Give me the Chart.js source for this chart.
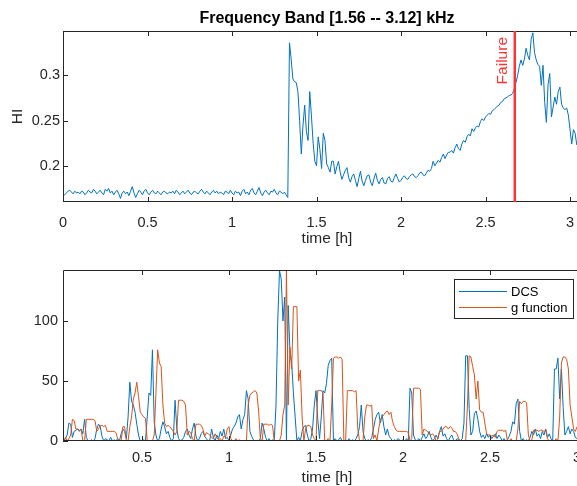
<!DOCTYPE html>
<html>
<head>
<meta charset="utf-8">
<script src="https://cdn.jsdelivr.net/npm/chart.js@4.4.1/dist/chart.umd.min.js"></script>
<style>
  html, body { margin: 0; padding: 0; background: #fff; width: 577px; height: 486px; overflow: hidden; position: relative; }
  canvas { position: absolute; left: 0; }
  #chartHI { top: 0; }
  #chartDCS { top: 250px; }
</style>
</head>
<body>
<canvas id="chartHI" width="591" height="250"></canvas>
<canvas id="chartDCS" width="591" height="250"></canvas>
<script>
// ---- top panel: health indicator, sampled every 0.01 h from 0 h ----
const hiStart = 0;
const hiStep = 0.01;
const hiValues = [
  0.167,0.168,0.170,0.172,0.173,0.171,0.169,0.172,0.170,0.171,
  0.169,0.172,0.171,0.168,0.170,0.173,0.171,0.170,0.174,0.172,
  0.169,0.171,0.173,0.170,0.168,0.174,0.172,0.175,0.170,0.172,
  0.168,0.171,0.173,0.169,0.164,0.170,0.172,0.169,0.171,0.167,
  0.172,0.177,0.170,0.165,0.169,0.173,0.171,0.168,0.172,0.174,
  0.170,0.168,0.171,0.173,0.170,0.169,0.172,0.170,0.168,0.171,
  0.172,0.170,0.169,0.171,0.170,0.172,0.169,0.173,0.171,0.168,
  0.170,0.172,0.169,0.171,0.173,0.170,0.168,0.171,0.172,0.170,
  0.169,0.172,0.174,0.171,0.169,0.172,0.170,0.168,0.171,0.173,
  0.170,0.172,0.169,0.171,0.170,0.168,0.172,0.171,0.169,0.173,
  0.170,0.168,0.172,0.170,0.171,0.167,0.172,0.174,0.169,0.171,
  0.168,0.173,0.175,0.170,0.168,0.172,0.176,0.170,0.167,0.171,
  0.173,0.170,0.168,0.172,0.171,0.174,0.170,0.168,0.172,0.171,
  0.169,0.171,0.168,0.165,0.336,0.318,0.296,0.293,0.292,0.282,
  0.250,0.213,0.245,0.267,0.238,0.228,0.282,0.255,0.225,0.205,
  0.200,0.232,0.218,0.197,0.236,0.228,0.202,0.198,0.193,0.205,
  0.205,0.191,0.199,0.205,0.193,0.185,0.190,0.195,0.198,0.187,
  0.182,0.188,0.191,0.184,0.177,0.186,0.194,0.183,0.178,0.184,
  0.189,0.190,0.182,0.178,0.186,0.192,0.184,0.180,0.185,0.187,
  0.181,0.180,0.186,0.188,0.183,0.182,0.187,0.191,0.186,0.182,
  0.184,0.187,0.189,0.186,0.185,0.188,0.190,0.191,0.188,0.187,
  0.189,0.192,0.193,0.190,0.189,0.192,0.195,0.194,0.197,0.205,
  0.200,0.203,0.206,0.204,0.209,0.213,0.208,0.212,0.215,0.215,
  0.217,0.214,0.220,0.224,0.219,0.217,0.224,0.228,0.226,0.232,
  0.235,0.233,0.241,0.238,0.242,0.244,0.243,0.249,0.252,0.250,
  0.254,0.256,0.258,0.257,0.261,0.262,0.264,0.266,0.267,0.270,
  0.271,0.274,0.275,0.276,0.278,0.278,0.280,0.285,0.292,0.300,
  0.310,0.317,0.311,0.318,0.330,0.322,0.317,0.340,0.347,0.325,
  0.317,0.312,0.310,0.289,0.311,0.270,0.248,0.290,0.302,0.254,
  0.265,0.276,0.268,0.282,0.287,0.268,0.264,0.262,0.264,0.256,
  0.240,0.224,0.240,0.236,0.223
];
const failureTime = 2.673;
const hiTicksX = [0, 0.5, 1, 1.5, 2, 2.5, 3];
const hiTicksY = [0.2, 0.25, 0.3];

// ---- bottom panel: DCS and g function, sampled every 0.01 h from 0.05 h ----
const dcsStart = 0.05;
const dcsStep = 0.01;
const dcsValues = [
  0,2,5,15,14,
  3,8,9,10,8,10,6,18,3,0,
  0,1,0,2,10,14,12,4,0,2,
  1,0,3,0,1,0,2,0,6,10,
  8,2,20,49,33,30,24,14,5,0,
  0,1,0,20,40,38,76,16,5,0,
  2,10,16,12,6,8,3,0,2,34,
  10,2,0,1,3,8,10,5,2,10,
  15,4,0,2,6,8,4,2,0,1,
  10,3,0,5,2,8,4,10,2,3,
  0,5,10,12,15,20,22,10,18,22,
  42,35,8,4,1,0,0,0,2,15,
  10,3,0,2,0,1,0,30,100,142,
  135,100,120,0,113,75,65,40,20,0,
  3,0,8,12,13,5,0,2,10,30,
  42,18,2,20,42,40,48,63,67,69,
  0,2,0,1,3,0,0,1,0,2,
  0,1,0,2,5,12,30,8,2,0,
  1,0,3,10,18,22,24,15,22,12,
  5,10,4,2,0,1,0,2,1,0,
  1,0,2,0,44,40,5,1,0,2,
  0,3,6,2,4,8,3,0,2,5,
  2,8,12,4,6,2,0,3,5,1,
  0,2,1,0,2,15,71,71,27,5,
  8,23,25,18,8,3,5,2,6,3,
  5,2,4,6,2,5,3,0,2,0,
  1,4,8,16,14,31,35,8,0,2,
  0,1,0,3,8,5,10,4,6,2,
  8,5,10,3,6,2,0,60,60,69,
  35,60,28,5,8,12,6,10,8,3,
  2
];
const gValues = [
  0,3,0,2,5,
  18,17,10,10,9,10,0,0,18,18,
  18,18,18,17,8,10,13,13,12,13,
  8,8,8,8,8,7,2,0,0,12,
  12,0,0,12,20,35,40,49,37,24,
  22,20,19,0,0,0,0,5,40,76,
  65,62,30,15,12,13,12,10,8,5,
  8,34,34,34,33,30,5,8,7,2,
  0,14,14,14,13,10,4,7,6,5,
  3,2,6,3,1,2,0,4,3,10,
  12,2,0,0,2,0,1,0,0,0,
  0,30,38,40,41,42,40,25,2,0,
  14,14,14,13,14,13,0,0,0,0,
  5,22,30,142,30,78,60,112,112,112,
  50,59,20,0,10,13,13,12,5,2,
  0,42,42,42,40,0,0,2,0,30,
  69,70,70,69,70,68,0,0,42,42,
  42,42,41,42,10,0,0,0,20,30,
  30,29,30,2,5,0,10,18,20,22,
  24,25,22,24,16,12,9,8,8,8,
  8,8,8,7,0,2,44,44,44,44,
  43,5,10,9,8,6,5,6,4,0,
  2,8,8,10,12,12,10,12,11,8,
  8,6,2,0,0,0,0,30,71,70,
  62,55,35,50,26,24,24,15,6,5,
  5,4,5,3,8,9,9,9,8,9,
  0,0,2,0,0,0,10,33,31,33,
  33,32,5,0,1,9,9,9,8,9,
  9,8,9,2,0,0,0,0,2,0,
  20,65,70,70,68,60,30,20,10,8,
  12
];
const seriesNames = ['DCS', 'g function'];
const dcsTicksX = [0.5, 1, 1.5, 2, 2.5, 3];
const dcsTicksY = [0, 50, 100];

const BLUE = '#0072bd';
const ORANGE = '#d95319';
const RED = '#ff3333';
const AXIS = '#262626';
const FONT = '"Liberation Sans", Arial, Helvetica, sans-serif';

Chart.defaults.font.family = FONT;
Chart.defaults.color = AXIS;

function toPoints(start, step, values) {
  return values.map((v, i) => ({ x: start + i * step, y: v }));
}
const fmt = v => String(Math.round(v * 1000) / 1000);

function fixedTicks(list) {
  return scale => { scale.ticks = list.map(v => ({ value: v })); };
}

// keep the plot box where matlab put it: no extra room for edge labels
function fixSize(w, h) {
  return s => {
    if (w !== null) s.width = w;
    if (h !== null) s.height = h;
    s.paddingLeft = 0; s.paddingRight = 0;
    s.paddingTop = 0; s.paddingBottom = 0;
  };
}

// matlab style box with inward ticks
const matlabAxes = {
  id: 'matlabAxes',
  afterDatasetsDraw(chart) {
    const { ctx, chartArea: a, scales: { x, y } } = chart;
    const len = 5;
    ctx.save();
    ctx.strokeStyle = AXIS;
    ctx.lineWidth = 1;
    ctx.beginPath();
    ctx.moveTo(a.right - 0.5, a.top + 0.5);
    ctx.lineTo(a.left + 0.5, a.top + 0.5);
    ctx.lineTo(a.left + 0.5, a.bottom - 0.5);
    ctx.lineTo(a.right - 0.5, a.bottom - 0.5);
    ctx.lineTo(a.right - 0.5, a.top + 0.5);
    x.ticks.forEach(t => {
      const px = Math.round(x.getPixelForValue(t.value)) + 0.5;
      ctx.moveTo(px, a.bottom); ctx.lineTo(px, a.bottom - len);
      ctx.moveTo(px, a.top); ctx.lineTo(px, a.top + len);
    });
    y.ticks.forEach(t => {
      const py = Math.round(y.getPixelForValue(t.value)) + 0.5;
      ctx.moveTo(a.left, py); ctx.lineTo(a.left + len, py);
      ctx.moveTo(a.right, py); ctx.lineTo(a.right - len, py);
    });
    ctx.stroke();
    ctx.restore();
  }
};

const failureMarker = {
  id: 'failureMarker',
  afterDatasetsDraw(chart) {
    const { ctx, chartArea: a, scales: { x } } = chart;
    const px = x.getPixelForValue(failureTime);
    ctx.save();
    ctx.strokeStyle = RED;
    ctx.lineWidth = 2.5;
    ctx.beginPath();
    ctx.moveTo(px, a.top);
    ctx.lineTo(px, a.bottom);
    ctx.stroke();
    ctx.translate(px - 8, a.top + 6);
    ctx.rotate(-Math.PI / 2);
    ctx.fillStyle = RED;
    ctx.font = '15.5px ' + FONT;
    ctx.textAlign = 'right';
    ctx.textBaseline = 'alphabetic';
    ctx.fillText('Failure', 0, 0);
    ctx.restore();
  }
};

const legendBox = {
  id: 'legendBox',
  afterDraw(chart) {
    const { ctx, chartArea: a } = chart;
    const bx = a.right - 137, by = a.top + 9, bw = 119, bh = 39;
    ctx.save();
    ctx.fillStyle = '#fff';
    ctx.fillRect(bx, by, bw, bh);
    ctx.strokeStyle = AXIS;
    ctx.lineWidth = 1;
    ctx.strokeRect(bx + 0.5, by + 0.5, bw, bh);
    ctx.font = '13px ' + FONT;
    ctx.textBaseline = 'middle';
    ctx.fillStyle = '#000';
    const colors = [BLUE, ORANGE];
    seriesNames.forEach((name, i) => {
      const ly = by + 12 + i * 16;
      ctx.strokeStyle = colors[i];
      ctx.beginPath();
      ctx.moveTo(bx + 5, ly + 0.5);
      ctx.lineTo(bx + 53, ly + 0.5);
      ctx.stroke();
      ctx.fillText(name, bx + 57, ly + 1);
    });
    ctx.restore();
  }
};

new Chart(document.getElementById('chartHI'), {
  type: 'line',
  data: {
    datasets: [{
      label: 'HI',
      data: toPoints(hiStart, hiStep, hiValues),
      borderColor: BLUE,
      borderWidth: 1,
      pointRadius: 0,
      tension: 0,
      fill: false
    }]
  },
  options: {
    responsive: false,
    animation: false,
    devicePixelRatio: 1,
    layout: { padding: 0, autoPadding: false },
    plugins: {
      legend: { display: false },
      tooltip: { enabled: false },
      title: {
        display: true,
        fullSize: false,
        text: 'Frequency Band [1.56 -- 3.12] kHz',
        color: '#000',
        font: { size: 16, weight: 'bold' },
        padding: { top: 9.4, bottom: 2.4 }
      }
    },
    scales: {
      x: {
        type: 'linear', min: 0, max: 3.124,
        grid: { display: false, drawTicks: false },
        border: { display: false },
        afterBuildTicks: fixedTicks(hiTicksX),
        ticks: { padding: 12, maxRotation: 0, autoSkip: false, callback: fmt, font: { size: 14.5 } },
        title: { display: true, text: 'time [h]', font: { size: 15.5 }, padding: { top: 0, bottom: 2 } },
        afterFit: fixSize(null, 48)
      },
      y: {
        min: 0.16, max: 0.349,
        grid: { display: false, drawTicks: false },
        border: { display: false },
        afterBuildTicks: fixedTicks(hiTicksY),
        ticks: { padding: 3, autoSkip: false, callback: fmt, font: { size: 14.5 } },
        title: { display: true, text: 'HI', font: { size: 15.5 }, padding: { top: 8.7, bottom: 0 } },
        afterFit: fixSize(63, null)
      }
    }
  },
  plugins: [matlabAxes, failureMarker]
});

new Chart(document.getElementById('chartDCS'), {
  type: 'line',
  data: {
    datasets: [{
      label: seriesNames[0],
      data: toPoints(dcsStart, dcsStep, dcsValues),
      borderColor: BLUE,
      borderWidth: 1,
      pointRadius: 0,
      tension: 0,
      fill: false,
      order: 2
    }, {
      label: seriesNames[1],
      data: toPoints(dcsStart, dcsStep, gValues),
      borderColor: ORANGE,
      borderWidth: 1,
      pointRadius: 0,
      tension: 0,
      fill: false,
      order: 1
    }]
  },
  options: {
    responsive: false,
    animation: false,
    devicePixelRatio: 1,
    layout: { padding: { top: 20, left: 0, right: 0, bottom: 0 }, autoPadding: false },
    plugins: {
      legend: { display: false },
      tooltip: { enabled: false }
    },
    scales: {
      x: {
        type: 'linear', min: 0.046, max: 3.08,
        grid: { display: false, drawTicks: false },
        border: { display: false },
        afterBuildTicks: fixedTicks(dcsTicksX),
        ticks: { padding: 8, maxRotation: 0, autoSkip: false, callback: fmt, font: { size: 14.5 } },
        title: { display: true, text: 'time [h]', font: { size: 15.5 }, padding: { top: 0, bottom: 13 } },
        afterFit: fixSize(null, 59)
      },
      y: {
        min: 0, max: 142.5,
        grid: { display: false, drawTicks: false },
        border: { display: false },
        afterBuildTicks: fixedTicks(dcsTicksY),
        ticks: { padding: 5, autoSkip: false, callback: fmt, font: { size: 14.5 } },
        afterFit: fixSize(63, null)
      }
    }
  },
  plugins: [matlabAxes, legendBox]
});
</script>
</body>
</html>
